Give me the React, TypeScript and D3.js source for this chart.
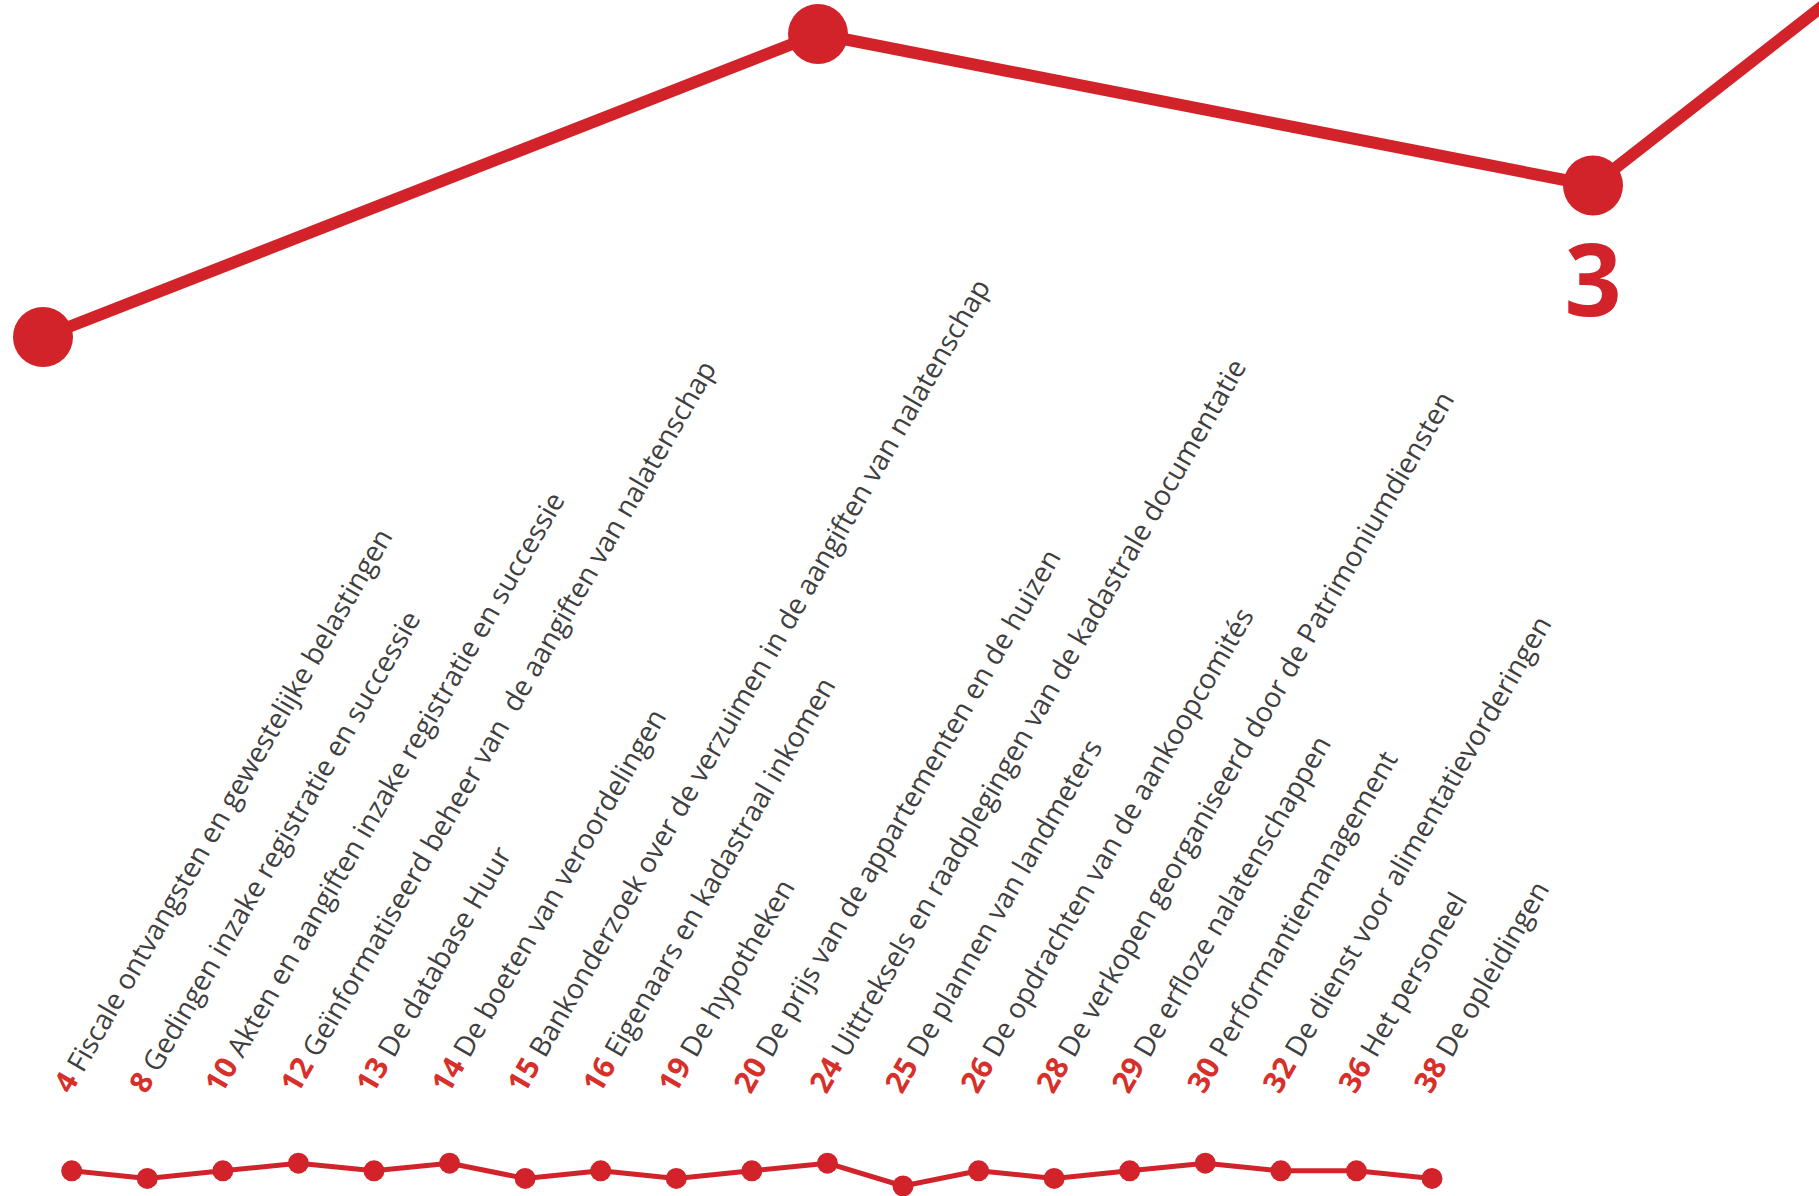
import React from "react";
import * as d3 from "d3";

const W = 1819;
const H = 1196;

// Top (magnified) series
const topIndex = [0, 1, 2, 3];
const topValues = [2, 4, 3, 7];
const topLabelIndex = 2;
const topLabelText = "3";

// Bottom series
const questionNumbers = ["4", "8", "10", "12", "13", "14", "15", "16", "19", "20", "24", "25", "26", "28", "29", "30", "32", "36", "38"];
const questionTexts = [
  "Fiscale ontvangsten en gewestelijke belastingen",
  "Gedingen inzake registratie en successie",
  "Akten en aangiften inzake registratie en successie",
  "Geïnformatiseerd beheer van  de aangiften van nalatenschap",
  "De database Huur",
  "De boeten van veroordelingen",
  "Bankonderzoek over de verzuimen in de aangiften van nalatenschap",
  "Eigenaars en kadastraal inkomen",
  "De hypotheken",
  "De prijs van de appartementen en de huizen",
  "Uittreksels en raadplegingen van de kadastrale documentatie",
  "De plannen van landmeters",
  "De opdrachten van de aankoopcomités",
  "De verkopen georganiseerd door de Patrimoniumdiensten",
  "De erfloze nalatenschappen",
  "Performantiemanagement",
  "De dienst voor alimentatievorderingen",
  "Het personeel",
  "De opleidingen",
];
const bottomValues = [3, 2, 3, 4, 3, 4, 2, 3, 2, 3, 4, 1, 3, 2, 3, 4, 3, 3, 2];

const RED = "#d2232a";
const LABEL_RED = "#d7302a";
const GRAY = "#3f3f3f";
const FONT = "'Open Sans', 'Noto Sans', sans-serif";

export default function App() {
  // top scales
  const xTop = d3.scaleLinear().domain([0, 2]).range([43, 1593]);
  const yTop = d3.scaleLinear().domain([3, 4]).range([185.5, 34]);
  const topLine = d3
    .line<number>()
    .x((_, i) => xTop(topIndex[i]))
    .y((d) => yTop(d));

  // bottom scales
  const xBot = d3
    .scalePoint<number>()
    .domain(d3.range(bottomValues.length))
    .range([71.7, 1432]);
  const yBot = d3.scaleLinear().domain([1, 4]).range([1186, 1163.2]);
  const botLine = d3
    .line<number>()
    .x((_, i) => xBot(i) as number)
    .y((d) => yBot(d));

  const labelBaseY = 1095;

  return (
    <svg
      width={W}
      height={H}
      viewBox={`0 0 ${W} ${H}`}
      style={{ position: "absolute", left: 0, top: 0, background: "#fff" }}
    >
      <rect x={0} y={0} width={W} height={H} fill="#fff" />
      {/* top magnified line */}
      <path d={topLine(topValues) || ""} fill="none" stroke={RED} strokeWidth={12} strokeLinejoin="round" />
      {topValues.map((v, i) => (
        <circle key={i} cx={xTop(topIndex[i])} cy={yTop(v)} r={30} fill={RED} />
      ))}
      <text
        x={xTop(topIndex[topLabelIndex])}
        y={yTop(topValues[topLabelIndex]) + 130}
        textAnchor="middle"
        fontFamily={FONT}
        fontWeight={700}
        fontSize={100}
        fill={RED}
      >
        {topLabelText}
      </text>

      {/* labels */}
      {questionNumbers.map((n, i) => {
        const x = (xBot(i) as number) - 1;
        return (
          <text
            key={n}
            transform={`translate(${x},${labelBaseY}) rotate(-60)`}
            fontFamily={FONT}
            fontSize={28}
            style={{ whiteSpace: "pre" }}
          >
            <tspan fill={LABEL_RED} fontWeight={700} fontSize={30}>
              {n}
            </tspan>
            <tspan fill={GRAY}>{" " + questionTexts[i]}</tspan>
          </text>
        );
      })}

      {/* bottom line */}
      <path d={botLine(bottomValues) || ""} fill="none" stroke={RED} strokeWidth={5} strokeLinejoin="round" />
      {bottomValues.map((v, i) => (
        <circle key={i} cx={xBot(i) as number} cy={yBot(v)} r={10.5} fill={RED} />
      ))}
    </svg>
  );
}
